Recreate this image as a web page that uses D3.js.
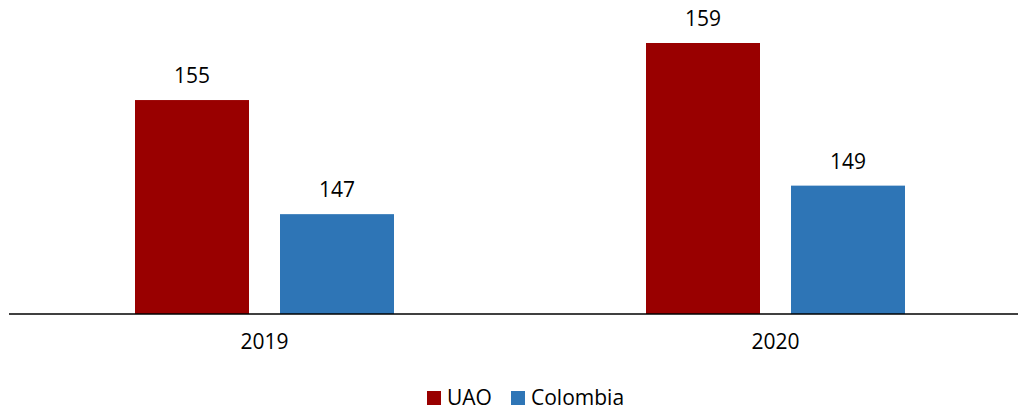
<!DOCTYPE html>
<html><head><meta charset="utf-8">
<script src="https://cdn.jsdelivr.net/npm/d3@7"></script>
<style>body{margin:0;background:#fff;} text{font-family:"Open Sans",sans-serif;}</style>
</head><body><svg id="c" width="1018" height="410"></svg>
<script>
const categories = ["2019", "2020"];
const seriesNames = ["UAO", "Colombia"];
const uao = [155, 159];
const colombia = [147, 149];
const colors = ["#990000", "#2E75B6"];

const svg = d3.select("#c");
const baseY = 314;
const x0 = d3.scaleBand().domain(categories).range([9, 1031]).paddingInner(0).paddingOuter(0);
const y = d3.scaleLinear().domain([140, 159]).range([baseY, 43]);
const barW = 114, gap = 31, off = 126;
const data = [uao, colombia];

data.forEach((vals, si) => {
  const g = svg.append("g");
  g.selectAll("rect").data(categories).enter().append("rect")
    .attr("x", (c) => x0(c) + off + si * (barW + gap))
    .attr("width", barW)
    .attr("y", (c, i) => y(vals[i]))
    .attr("height", (c, i) => baseY - y(vals[i]))
    .attr("fill", colors[si]);
  g.selectAll("text").data(categories).enter().append("text")
    .attr("x", (c) => x0(c) + off + si * (barW + gap) + barW / 2)
    .attr("y", (c, i) => y(vals[i]) - 17)
    .attr("text-anchor", "middle")
    .attr("font-size", 21)
    .attr("fill", "#000")
    .text((c, i) => vals[i]);
});

const xAxis = d3.axisBottom(x0).tickSize(0).tickPadding(20);
const ax = svg.append("g").attr("transform", `translate(0,${baseY})`).call(xAxis);
ax.select(".domain").attr("d", "M9,0H1018").attr("stroke", "#000").attr("stroke-width", 1.5);
ax.selectAll("text").attr("font-size", 21).attr("font-family", "Open Sans").attr("fill", "#000");

const legend = svg.append("g");
const items = [{n: seriesNames[0], x: 427, c: colors[0]}, {n: seriesNames[1], x: 511, c: colors[1]}];
items.forEach(it => {
  legend.append("rect").attr("x", it.x).attr("y", 391).attr("width", 14).attr("height", 14).attr("fill", it.c);
  legend.append("text").attr("x", it.x + 20).attr("y", 405).attr("font-size", 21).attr("fill", "#000").text(it.n);
});
</script></body></html>
